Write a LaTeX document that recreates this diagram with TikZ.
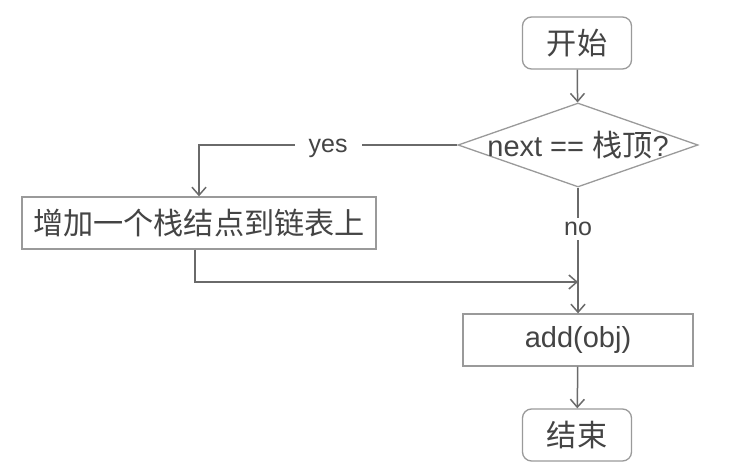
\documentclass[tikz,border=0pt]{standalone}
\usepackage{fontspec}
\setmainfont{Liberation Sans}
\newfontfamily\cjk[Scale=1.04]{Noto Sans CJK SC}
\usetikzlibrary{shapes.geometric,arrows.meta}
\definecolor{inkgray}{HTML}{444444}
\definecolor{linegray}{HTML}{6A6A6A}
\definecolor{boxgray}{HTML}{9A9A9A}
\tikzset{
  boxbase/.style={draw=boxgray, line width=1.3pt, fill=white, text=inkgray,
    font=\fontsize{29}{34}\selectfont, inner sep=0pt},
  terminal/.style={boxbase, rounded corners=9pt, minimum width=109pt, minimum height=52pt},
  process/.style={boxbase, minimum height=52pt},
  decision/.style={boxbase, diamond, minimum width=240pt, minimum height=84pt},
  flow/.style={draw=linegray, line width=1.5pt,
    -{Straight Barb[length=8pt,width=14pt,line width=1.5pt]}},
  edgelabel/.style={fill=white, text=inkgray, font=\fontsize{25}{30}\selectfont,
    inner xsep=14pt, inner ysep=4pt}
}
\begin{document}
\begin{tikzpicture}[x=1pt,y=-1pt]
  \useasboundingbox (0,0) rectangle (731,476);

  % nodes
  \node[terminal] (start) at (577,43) {\cjk 开始};
  \node[decision] (test) at (578,145)
    {\makebox[0pt][c]{next == {\cjk 栈顶}?}};
  \node[process, minimum width=354pt] (push) at (199,223)
    {\cjk 增加一个栈结点到链表上};
  \node[process, minimum width=230pt] (add) at (578,340) {add(obj)};
  \node[terminal] (stop) at (577,435) {\cjk 结束};
  \coordinate (merge) at (578,282);

  % connectors
  \draw[flow] (start) -- (test);
  \draw[flow] (test.west) -| node[edgelabel, pos=0.25, yshift=-3pt] {yes} (push.north);
  \draw[flow] (test.south) -- node[edgelabel, pos=0.33] {no} (add.north);
  \draw[flow] ([xshift=-4pt]push.south) |- (merge);
  \draw[flow] (add) -- (stop);
\end{tikzpicture}
\end{document}
